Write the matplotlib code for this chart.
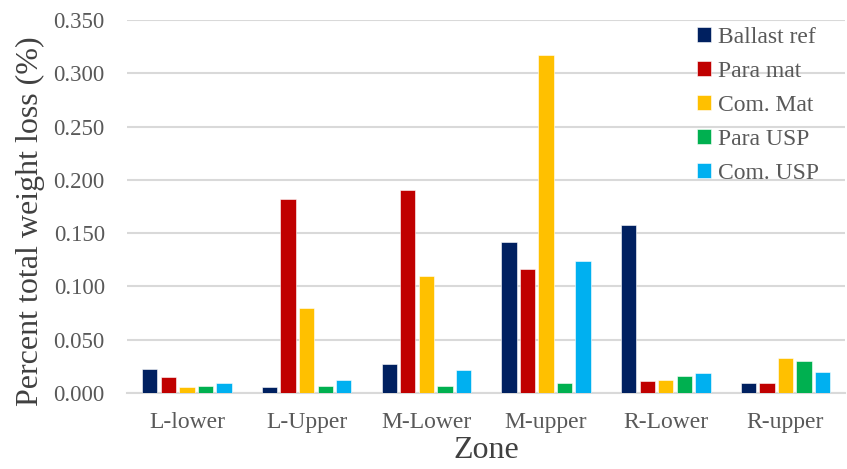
import numpy as np
import matplotlib.pyplot as plt

zones = ['L-lower', 'L-Upper', 'M-Lower', 'M-upper', 'R-Lower', 'R-upper']
series = ['Ballast ref', 'Para mat', 'Com. Mat', 'Para USP', 'Com. USP']

ballast_ref = [0.023, 0.006, 0.027, 0.142, 0.158, 0.009]
para_mat = [0.015, 0.182, 0.191, 0.116, 0.011, 0.0095]
com_mat = [0.006, 0.080, 0.110, 0.317, 0.012, 0.033]
para_usp = [0.0065, 0.007, 0.007, 0.0095, 0.016, 0.030]
com_usp = [0.0097, 0.012, 0.022, 0.124, 0.019, 0.020]

colors = ['#002060', '#C00000', '#FFC000', '#00B050', '#00B0F0']

plt.rcParams['font.family'] = ['Liberation Serif', 'DejaVu Serif']

fig = plt.figure(figsize=(8.47, 4.69), dpi=100)
ax = fig.add_axes([0.15, 0.162, 0.848, 0.795])

data = [ballast_ref, para_mat, com_mat, para_usp, com_usp]
x = np.arange(len(zones))
step = 0.155
width = 0.128
for i, vals in enumerate(data):
	ax.bar(x + (i - 2) * step, vals, width, color=colors[i], label=series[i],
		edgecolor='white', linewidth=0.4, zorder=3)

ax.set_xlim(-0.5, len(zones) - 0.5)
ax.set_ylim(0, 0.35)
ax.set_yticks(np.arange(0, 0.351, 0.05))
ax.set_yticklabels(['%.3f' % v for v in np.arange(0, 0.351, 0.05)])
ax.set_xticks(x)
ax.set_xticklabels(zones)

ax.grid(axis='y', color='#d9d9d9', linewidth=1.5, zorder=0)
for s in ['top', 'right', 'left']:
	ax.spines[s].set_visible(False)
ax.spines['bottom'].set_color('#d9d9d9')
ax.spines['bottom'].set_linewidth(1.5)
ax.tick_params(axis='both', length=0, labelsize=17, labelcolor='#595959')
ax.tick_params(axis='y', pad=16, labelsize=16.5)
ax.tick_params(axis='x', pad=14)

ax.set_ylabel('Percent total weight loss (%)', fontsize=23, color='#404040')
ax.yaxis.set_label_coords(-0.114, 0.46)
ax.set_xlabel('Zone', fontsize=23, color='#404040', labelpad=2)

leg = ax.legend(loc='upper left', bbox_to_anchor=(0.78, 1.008), frameon=False, fontsize=17,
	handlelength=0.6, handleheight=0.6, handletextpad=0.3, labelspacing=0.55, borderaxespad=0)
for t in leg.get_texts():
	t.set_color('#595959')

fig.savefig('out.png', dpi=100)
